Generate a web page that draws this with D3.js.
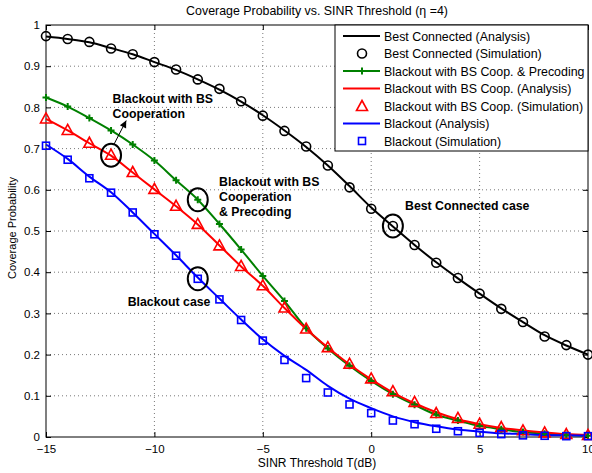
<!DOCTYPE html>
<html>
<head>
<meta charset="utf-8">
<script src="https://cdn.jsdelivr.net/npm/d3@7"></script>
<style>
  body { margin: 0; background: #fff; }
  svg text { font-family: "Liberation Sans", Arial, sans-serif; }
</style>
</head>
<body>
<div id="chart"></div>
<script>
// SINR threshold T (dB)
const thresholds = d3.range(-15, 11);

const bestAnalysis = [0.972, 0.966, 0.958, 0.944, 0.929, 0.910, 0.891, 0.868, 0.843, 0.814, 0.781, 0.744, 0.704,
    0.659, 0.609, 0.557, 0.511, 0.466, 0.424, 0.385, 0.348, 0.312, 0.279, 0.247, 0.222, 0.200];
const bestSim = [0.973, 0.966, 0.959, 0.943, 0.929, 0.910, 0.892, 0.868, 0.845, 0.815, 0.780, 0.743, 0.705,
    0.659, 0.606, 0.554, 0.512, 0.466, 0.423, 0.386, 0.348, 0.311, 0.279, 0.244, 0.223, 0.200];
const coopPrecoding = [0.824, 0.802, 0.774, 0.744, 0.710, 0.671, 0.623, 0.576, 0.517, 0.455, 0.391, 0.330, 0.264,
    0.215, 0.173, 0.136, 0.104, 0.078, 0.054, 0.040, 0.027, 0.019, 0.012, 0.008, 0.005, 0.003];
const coopAnalysis = [0.772, 0.744, 0.713, 0.683, 0.642, 0.601, 0.560, 0.516, 0.465, 0.414, 0.367, 0.313, 0.262,
    0.217, 0.176, 0.140, 0.108, 0.082, 0.060, 0.043, 0.031, 0.022, 0.016, 0.011, 0.007, 0.005];
const coopSim = [0.772, 0.744, 0.713, 0.684, 0.642, 0.601, 0.560, 0.516, 0.464, 0.414, 0.367, 0.313, 0.262,
    0.217, 0.177, 0.141, 0.110, 0.084, 0.057, 0.045, 0.031, 0.023, 0.015, 0.010, 0.006, 0.004];
const blackoutAnalysis = [0.710, 0.675, 0.632, 0.594, 0.545, 0.493, 0.441, 0.387, 0.336, 0.285, 0.237, 0.197, 0.163,
    0.124, 0.093, 0.070, 0.050, 0.036, 0.026, 0.018, 0.013, 0.009, 0.007, 0.005, 0.004, 0.003];
const blackoutSim = [0.707, 0.673, 0.628, 0.593, 0.545, 0.492, 0.440, 0.384, 0.334, 0.284, 0.234, 0.187, 0.143,
    0.108, 0.079, 0.058, 0.040, 0.031, 0.020, 0.014, 0.010, 0.007, 0.004, 0.003, 0.002, 0.002];

const xTicks = [-15, -10, -5, 0, 5, 10];
const yTicks = [0, 0.1, 0.2, 0.3, 0.4, 0.5, 0.6, 0.7, 0.8, 0.9, 1];

const legendLabels = [
    "Best Connected (Analysis)",
    "Best Connected (Simulation)",
    "Blackout with BS Coop. & Precoding",
    "Blackout with BS Coop. (Analysis)",
    "Blackout with BS Coop. (Simulation)",
    "Blackout (Analysis)",
    "Blackout (Simulation)"
];

const paintChart = () => {
    const width = 592, height = 473;
    const margin = { top: 25, right: 4, bottom: 36, left: 46 };
    const iw = width - margin.left - margin.right;
    const ih = height - margin.top - margin.bottom;

    const x = d3.scaleLinear().domain([-15, 10]).range([0, iw]);
    const y = d3.scaleLinear().domain([0, 1]).range([ih, 0]);
    const fmtMinus = d => String(d).replace("-", "\u2212");

    const svg = d3.select("#chart").append("svg")
        .attr("width", width)
        .attr("height", height);

    svg.append("text")
        .attr("x", margin.left + iw / 2)
        .attr("y", 15)
        .attr("text-anchor", "middle")
        .style("font-size", "12.4px")
        .text("Coverage Probability vs. SINR Threshold (\u03b7 =4)");

    const g = svg.append("g").attr("transform", `translate(${margin.left},${margin.top})`);

    // dotted grid
    g.append("g").selectAll("line").data(xTicks.slice(1, -1)).join("line")
        .attr("x1", d => x(d)).attr("x2", d => x(d)).attr("y1", 0).attr("y2", ih)
        .attr("stroke", "#555").attr("stroke-width", 0.8).attr("stroke-dasharray", "1,3");
    g.append("g").selectAll("line").data(yTicks.slice(1, -1)).join("line")
        .attr("y1", d => y(d)).attr("y2", d => y(d)).attr("x1", 0).attr("x2", iw)
        .attr("stroke", "#555").attr("stroke-width", 0.8).attr("stroke-dasharray", "1,3");

    // axes, ticks inward
    const xAxis = g.append("g").attr("transform", `translate(0,${ih})`)
        .call(d3.axisBottom(x).tickValues(xTicks).tickSize(-5).tickPadding(8).tickFormat(fmtMinus));
    const yAxis = g.append("g")
        .call(d3.axisLeft(y).tickValues(yTicks).tickSize(-5).tickPadding(6).tickFormat(d => d));
    g.append("g")
        .call(d3.axisTop(x).tickValues(xTicks).tickSize(-5).tickFormat(""));
    g.append("g").attr("transform", `translate(${iw},0)`)
        .call(d3.axisRight(y).tickValues(yTicks).tickSize(-5).tickFormat(""));
    g.selectAll(".domain").remove();
    g.selectAll(".tick line").attr("stroke", "#000");
    [xAxis, yAxis].forEach(a => a.selectAll("text")
        .style("font-size", "11.5px").style("font-family", "Liberation Sans, Arial, sans-serif").attr("fill", "#000"));

    g.append("rect").attr("width", iw).attr("height", ih)
        .attr("fill", "none").attr("stroke", "#000").attr("stroke-width", 1);

    svg.append("text")
        .attr("x", margin.left + iw / 2)
        .attr("y", 467)
        .attr("text-anchor", "middle")
        .style("font-size", "12px")
        .text("SINR Threshold T(dB)");
    svg.append("text")
        .attr("transform", `translate(16,${margin.top + ih / 2 - 3}) rotate(-90)`)
        .attr("text-anchor", "middle")
        .style("font-size", "11px")
        .text("Coverage Probability");

    const plot = g.append("g");
    const line = d3.line().x((d, i) => x(thresholds[i])).y(d => y(d)).curve(d3.curveMonotoneX);

    const drawLine = (vals, color) => plot.append("path")
        .attr("d", line(vals)).attr("fill", "none").attr("stroke", color).attr("stroke-width", 2);

    drawLine(bestAnalysis, "#000");
    drawLine(coopPrecoding, "#008000");
    drawLine(coopAnalysis, "#ff0000");
    drawLine(blackoutAnalysis, "#0000ff");

    const circle = (sel, cx, cy) => sel.append("circle").attr("cx", cx).attr("cy", cy).attr("r", 4.5)
        .attr("fill", "none").attr("stroke", "#000").attr("stroke-width", 1.6);
    const plus = (sel, cx, cy) => sel.append("path")
        .attr("d", `M${cx - 3.5},${cy}H${cx + 3.5}M${cx},${cy - 3.5}V${cy + 3.5}`)
        .attr("stroke", "#008000").attr("stroke-width", 2);
    const tri = (sel, cx, cy) => sel.append("path")
        .attr("d", `M${cx},${cy - 6}L${cx + 5.5},${cy + 4}L${cx - 5.5},${cy + 4}Z`)
        .attr("fill", "none").attr("stroke", "#ff0000").attr("stroke-width", 1.6);
    const square = (sel, cx, cy) => sel.append("rect")
        .attr("x", cx - 3.5).attr("y", cy - 3.5).attr("width", 7).attr("height", 7)
        .attr("fill", "none").attr("stroke", "#0000ff").attr("stroke-width", 1.6);

    bestSim.forEach((v, i) => circle(plot, x(thresholds[i]), y(v)));
    coopPrecoding.forEach((v, i) => plus(plot, x(thresholds[i]), y(v)));
    coopSim.forEach((v, i) => tri(plot, x(thresholds[i]), y(v)));
    blackoutSim.forEach((v, i) => square(plot, x(thresholds[i]), y(v)));

    // annotations
    const ann = g.append("g");
    const ellipse = (t, v) => ann.append("ellipse").attr("cx", x(t)).attr("cy", y(v))
        .attr("rx", 10).attr("ry", 11.5).attr("fill", "none").attr("stroke", "#000").attr("stroke-width", 2);
    ellipse(-12, coopSim[3]);
    ellipse(-8, coopPrecoding[7]);
    ellipse(-8, blackoutSim[7]);
    ellipse(1, bestSim[16]);

    const boldText = (px, py, lines) => {
        const t = ann.append("text").attr("x", px).attr("y", py)
            .style("font-size", "12.3px").style("font-weight", "bold");
        lines.forEach((l, i) => t.append("tspan").attr("x", px).attr("dy", i ? 15 : 0).text(l));
    };
    boldText(x(-11.93), y(0.811), ["Blackout with BS", "Cooperation"]);
    boldText(x(-7.02), y(0.610), ["Blackout with BS", "Cooperation", "& Precoding"]);
    boldText(x(-11.23), y(0.319), ["Blackout case"]);
    boldText(x(1.56), y(0.550), ["Best Connected case"]);

    // arrow
    const ax0 = x(-12) + 3, ay0 = y(coopSim[3]) - 11, ax1 = x(-11.3), ay1 = y(0.768);
    ann.append("line").attr("x1", ax0).attr("y1", ay0).attr("x2", ax1).attr("y2", ay1)
        .attr("stroke", "#000").attr("stroke-width", 1);
    const ang = Math.atan2(ay1 - ay0, ax1 - ax0);
    const hl = 7, hw = 3.5;
    const bx = ax1 - hl * Math.cos(ang), by = ay1 - hl * Math.sin(ang);
    ann.append("path")
        .attr("d", `M${ax1},${ay1}L${bx + hw * Math.sin(ang)},${by - hw * Math.cos(ang)}L${bx - hw * Math.sin(ang)},${by + hw * Math.cos(ang)}Z`)
        .attr("fill", "#000");

    // legend
    const lx = 335 - margin.left, ly = 0, lw = iw - lx, lh = 126;
    const leg = g.append("g").attr("transform", `translate(${lx},${ly})`);
    leg.append("rect").attr("width", lw).attr("height", lh)
        .attr("fill", "#fff").attr("stroke", "#000").attr("stroke-width", 1);
    const legStyle = [
        { line: "#000" }, { marker: circle }, { line: "#008000", marker: plus },
        { line: "#ff0000" }, { marker: tri }, { line: "#0000ff" }, { marker: square }
    ];
    legendLabels.forEach((lab, i) => {
        const yy = 11 + i * 17.5;
        const s = legStyle[i];
        if (s.line) leg.append("line").attr("x1", 8).attr("x2", 45).attr("y1", yy).attr("y2", yy)
            .attr("stroke", s.line).attr("stroke-width", 2);
        if (s.marker) s.marker(leg, 27, yy + (s.marker === tri ? 0.5 : 0));
        leg.append("text").attr("x", 49).attr("y", yy + 4.5)
            .style("font-size", "12.4px").attr("fill", "#000").text(lab);
    });
};

document.addEventListener("DOMContentLoaded", paintChart);
</script>
</body>
</html>
